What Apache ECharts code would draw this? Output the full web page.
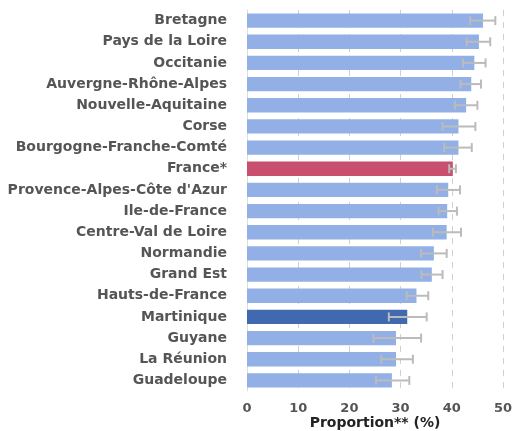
<!DOCTYPE html>
<html><head><meta charset="utf-8">
<script src="https://cdn.jsdelivr.net/npm/echarts@6/dist/echarts.min.js"></script>
<style>html,body{margin:0;padding:0;background:#fff}#c{width:513px;height:431px}</style>
</head><body><div id="c"></div>
<script>
const categories = ["Bretagne","Pays de la Loire","Occitanie","Auvergne-Rhône-Alpes","Nouvelle-Aquitaine","Corse","Bourgogne-Franche-Comté","France*","Provence-Alpes-Côte d'Azur","Ile-de-France","Centre-Val de Loire","Normandie","Grand Est","Hauts-de-France","Martinique","Guyane","La Réunion","Guadeloupe"];
const values = [46.1,45.3,44.4,43.8,42.8,41.3,41.3,40.2,39.3,39.1,39.0,36.5,36.1,33.1,31.3,29.1,29.1,28.3];
const lower = [43.6,42.9,42.2,41.7,40.6,38.2,38.5,39.5,37.1,37.4,36.3,34.0,34.1,31.2,27.7,24.7,26.2,25.2];
const upper = [48.5,47.5,46.6,45.7,45.0,44.6,43.9,40.8,41.6,41.0,41.8,39.0,38.2,35.4,35.1,34.0,32.4,31.7];
const xTicks = [0,10,20,30,40,50];

const colorFor = c => c === "France*" ? "#c84f6e" : (c === "Martinique" ? "#4169b0" : "#92b0e6");
const chart = echarts.init(document.getElementById('c'), null, {renderer:'canvas'});
const font = "DejaVu Sans";
chart.setOption({
  animation:false,
  grid:{left:247,right:10,top:10,bottom:40,containLabel:false,outerBoundsMode:'none'},
  xAxis:{type:'value',min:xTicks[0],max:xTicks[xTicks.length-1],interval:10,
    axisLine:{show:false},axisTick:{show:false},
    axisLabel:{fontFamily:font,fontWeight:'bold',fontSize:13,color:'#555',margin:11},
    splitLine:{show:true,lineStyle:{color:'#d0d0d0',type:[6,6],width:1}},
    name:'Proportion** (%)',nameLocation:'middle',nameGap:25,nameMoveOverlap:false,
    nameTextStyle:{fontFamily:font,fontWeight:'bold',fontSize:14,color:'#222'}},
  yAxis:{type:'category',data:categories,inverse:true,
    axisLine:{show:true,lineStyle:{color:'#ddd'}},axisTick:{show:false},
    axisLabel:{fontFamily:font,fontWeight:'bold',fontSize:14,color:'#555',margin:20}},
  series:[
    {type:'bar',barWidth:'68%',
     data:values.map((v,i)=>({value:v,itemStyle:{color:colorFor(categories[i])}}))},
    {type:'custom',
     data:categories.map((c,i)=>[i,lower[i],upper[i]]),
     encode:{y:0,x:[1,2]},
     renderItem:function(params,api){
       const idx=api.value(0);
       const p1=api.coord([api.value(1),idx]);
       const p2=api.coord([api.value(2),idx]);
       const h=9;
       const st={stroke:'#bbbbbb',lineWidth:2};
       return {type:'group',children:[
         {type:'line',shape:{x1:p1[0],y1:p1[1],x2:p2[0],y2:p2[1]},style:st},
         {type:'line',shape:{x1:p1[0],y1:p1[1]-h/2,x2:p1[0],y2:p1[1]+h/2},style:st},
         {type:'line',shape:{x1:p2[0],y1:p2[1]-h/2,x2:p2[0],y2:p2[1]+h/2},style:st}
       ]};
     },z:5}
  ]
});
</script></body></html>
